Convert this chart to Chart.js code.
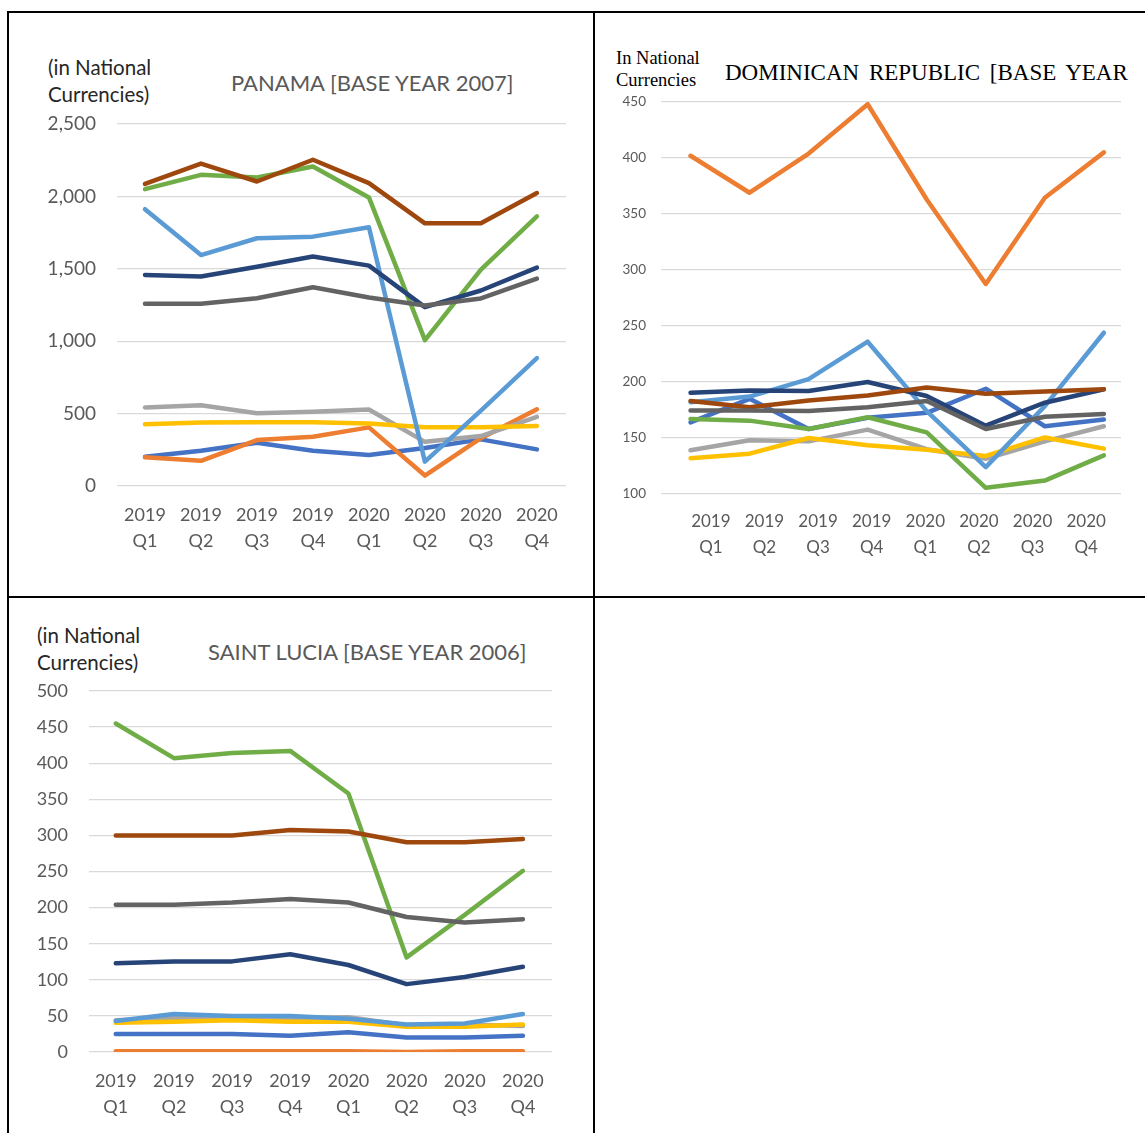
<!DOCTYPE html>
<html>
<head>
<meta charset="utf-8">
<script src="https://cdn.jsdelivr.net/npm/chart.js@4.4.1/dist/chart.umd.min.js"></script>
<style>
  body { margin: 0; background: #fff; }
  #page { position: relative; width: 1145px; height: 1133px; overflow: hidden; }
  .rule { position: absolute; background: #000; }
  .txt { position: absolute; white-space: nowrap; }
  .sans { font-family: Lato, 'Open Sans', sans-serif; }
  .serif { font-family: 'Liberation Serif', 'DejaVu Serif', serif; color: #000; }
  canvas { position: absolute; }
</style>
</head>
<body>
<div id="page">
  <!-- table rules -->
  <div class="rule" style="left:7px; top:11px; width:1138px; height:2px;"></div>
  <div class="rule" style="left:7px; top:596px; width:1138px; height:2px;"></div>
  <div class="rule" style="left:7px; top:11px; width:2px; height:1122px;"></div>
  <div class="rule" style="left:593px; top:11px; width:2px; height:1122px;"></div>

  <!-- Panama -->
  <div class="txt sans" style="left:48px; top:54px; font-size:20.5px; line-height:27px; color:#262626;">(in National<br>Currencies)</div>
  <div class="txt sans" style="left:231px; top:70px; font-size:22px; line-height:26px; color:#595959;">PANAMA [BASE YEAR 2007]</div>
  <canvas id="panama-chart" width="546" height="458" style="left:20px; top:108px;"></canvas>

  <!-- Dominican Republic -->
  <div class="txt serif" style="left:616px; top:47px; font-size:18.5px; line-height:22px;">In National<br>Currencies</div>
  <div class="txt serif" style="left:725px; top:60px; font-size:23px; line-height:26px; word-spacing:4px;">DOMINICAN REPUBLIC [BASE YEAR</div>
  <canvas id="domrep-chart" width="510" height="474" style="left:611px; top:90px;"></canvas>

  <!-- Saint Lucia -->
  <div class="txt sans" style="left:37px; top:622px; font-size:20.5px; line-height:27px; color:#262626;">(in National<br>Currencies)</div>
  <div class="txt sans" style="left:208px; top:639px; font-size:22px; line-height:26px; color:#595959;">SAINT LUCIA [BASE YEAR 2006]</div>
  <canvas id="stlucia-chart" width="533" height="457" style="left:19px; top:675px;"></canvas>
</div>

<script>
const quarters = [
  ['2019', 'Q1'], ['2019', 'Q2'], ['2019', 'Q3'], ['2019', 'Q4'],
  ['2020', 'Q1'], ['2020', 'Q2'], ['2020', 'Q3'], ['2020', 'Q4']
];

// one colour per series, same order in every chart
const seriesColors = ['#4472C4', '#ED7D31', '#A5A5A5', '#FFC000', '#5B9BD5',
                      '#70AD47', '#264478', '#9E480E', '#636363'];

const panamaTicks = [0, 500, 1000, 1500, 2000, 2500];
const panamaValues = [
  [202, 243, 298, 243, 214, 262, 322, 253],
  [198, 174, 317, 340, 405, 72, 330, 530],
  [542, 558, 503, 512, 528, 305, 345, 477],
  [427, 439, 440, 440, 432, 405, 405, 415],
  [1912, 1595, 1711, 1722, 1787, 168, 520, 883],
  [2050, 2149, 2131, 2207, 1993, 1007, 1495, 1862],
  [1458, 1447, 1514, 1585, 1522, 1235, 1350, 1508],
  [2086, 2227, 2103, 2253, 2092, 1814, 1814, 2023],
  [1258, 1258, 1297, 1373, 1302, 1247, 1295, 1432]
];

const domRepTicks = [100, 150, 200, 250, 300, 350, 400, 450];
const domRepValues = [
  [164, 185, 158, 168, 172.5, 194, 160.5, 166.5],
  [402, 369, 404, 448, 363, 287.5, 364.5, 405],
  [139, 148, 147, 157.5, 140, 131.5, 147, 160.5],
  [132, 136, 150, 143.5, 139.5, 134, 150.5, 140.5],
  [182, 187, 202.5, 236, 174, 124, 178.5, 244],
  [167, 165.5, 158, 168.5, 155, 105.5, 112, 134.5],
  [190.5, 192.5, 192, 200, 187.5, 161, 181.5, 193.5],
  [183, 177.5, 183.5, 188, 195, 189.5, 191.5, 193.5],
  [174.5, 174.5, 174, 177.5, 183, 158, 169, 171.5]
];

const stLuciaTicks = [0, 50, 100, 150, 200, 250, 300, 350, 400, 450, 500];
const stLuciaValues = [
  [25, 25, 25, 22.5, 27.5, 20, 20, 22.5],
  [1, 1, 1, 1, 1, 0, 1, 1],
  [44, 47, 47, 47, 48, 37, 38, 36],
  [40.5, 42, 44, 42, 42, 35, 35, 38],
  [43, 52.5, 50, 50, 46, 38, 39.5, 52.5],
  [455, 407, 414, 417, 358, 131, 190, 251],
  [123, 125.5, 125.5, 135.5, 120.5, 94, 104, 118],
  [300, 300, 300, 307.5, 305.5, 290.5, 290.5, 295],
  [204, 204, 207, 212, 207, 187, 179.5, 184]
];

const sansFont = 'Lato, "Open Sans", sans-serif';
const tickColor = '#595959';

function withCommas(v) {
  return String(v).replace(/\B(?=(\d{3})+(?!\d))/g, ',');
}

// fixed axis sizes, no extra room for overhanging labels
function fixSize(prop, size) {
  return (scale) => {
    scale[prop] = size;
    scale.paddingTop = scale.paddingBottom = scale.paddingLeft = scale.paddingRight = 0;
  };
}

function createQuarterChart(canvasId, values, ticks, opt) {
  const ctx = document.getElementById(canvasId).getContext('2d');
  const datasets = values.map((row, i) => ({
    data: row.map((v, q) => ({ x: q, y: v })),
    xAxisID: 'x',
    borderColor: seriesColors[i],
    borderWidth: 4.5,
    borderJoinStyle: 'round',
    borderCapStyle: 'round',
    pointRadius: 0,
    tension: 0,
    fill: false,
    // later series sit on top
    order: values.length - i
  }));

  return new Chart(ctx, {
    type: 'line',
    data: { datasets: datasets },
    options: {
      responsive: false,
      animation: false,
      layout: { padding: { top: opt.padTop, right: 0, bottom: 0, left: 0 } },
      plugins: { legend: { display: false }, tooltip: { enabled: false } },
      scales: {
        // quarter positions of the lines
        x: {
          type: 'linear',
          display: false,
          min: opt.pointRange[0],
          max: opt.pointRange[1]
        },
        // quarter labels under the plot
        xq: {
          type: 'linear',
          position: 'bottom',
          min: opt.labelRange[0],
          max: opt.labelRange[1],
          grid: { display: false, drawTicks: false },
          border: { display: false },
          ticks: {
            color: tickColor,
            padding: opt.xPad,
            maxRotation: 0,
            autoSkip: false,
            font: { family: sansFont, size: opt.xFont, lineHeight: opt.xLine },
            callback: (v) => quarters[v]
          },
          afterBuildTicks: (scale) => { scale.ticks = quarters.map((q, i) => ({ value: i })); },
          afterFit: fixSize('height', opt.xHeight)
        },
        y: {
          min: ticks[0],
          max: ticks[ticks.length - 1],
          grid: { color: '#D9D9D9', lineWidth: 1.3, drawTicks: false },
          border: { display: false },
          ticks: {
            color: tickColor,
            padding: opt.yPad,
            font: { family: sansFont, size: opt.yFont },
            callback: (v) => withCommas(v)
          },
          afterBuildTicks: (scale) => { scale.ticks = ticks.map(v => ({ value: v })); },
          afterFit: fixSize('width', opt.yWidth)
        }
      }
    }
  });
}

createQuarterChart('panama-chart', panamaValues, panamaTicks, {
  padTop: 16, yWidth: 97, yPad: 21, yFont: 19, xFont: 18, xLine: 1.45, xPad: 16, xHeight: 80,
  pointRange: [-0.5, 7.52], labelRange: [-0.5, 7.52]
});
createQuarterChart('domrep-chart', domRepValues, domRepTicks, {
  padTop: 12, yWidth: 50, yPad: 15, yFont: 13.5, xFont: 17, xLine: 1.5, xPad: 15, xHeight: 70,
  pointRange: [-0.5, 7.29], labelRange: [-0.93, 7.65]
});
createQuarterChart('stlucia-chart', stLuciaValues, stLuciaTicks, {
  padTop: 16, yWidth: 70, yPad: 21, yFont: 18, xFont: 18, xLine: 1.45, xPad: 16, xHeight: 80,
  pointRange: [-0.46, 7.5], labelRange: [-0.46, 7.5]
});
</script>
</body>
</html>
